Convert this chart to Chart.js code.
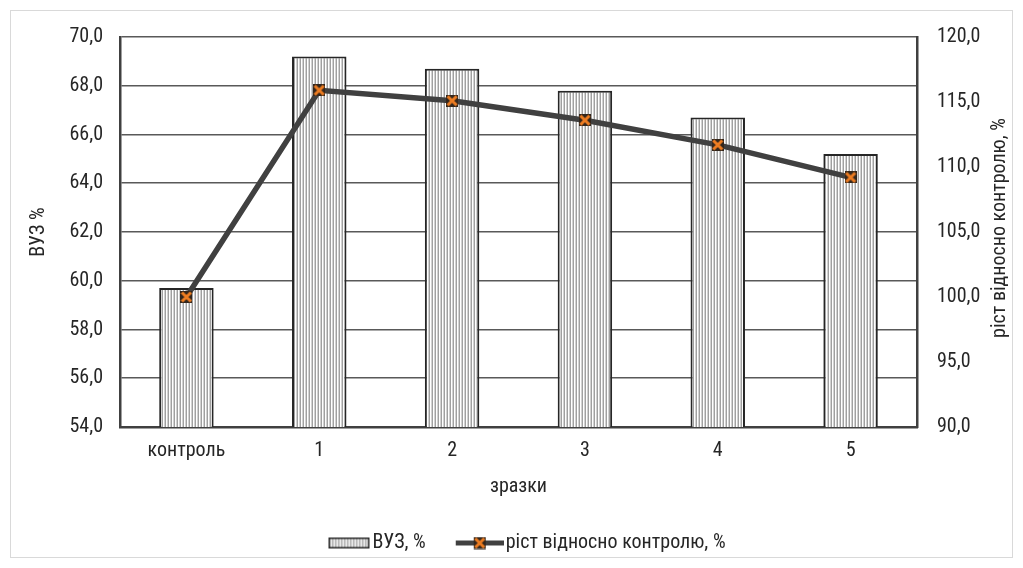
<!DOCTYPE html>
<html>
<head>
<meta charset="utf-8">
<script src="https://cdn.jsdelivr.net/npm/chart.js@4.4.1/dist/chart.umd.min.js"></script>
<style>
  html, body { margin: 0; padding: 0; background: #fff; }
  #wrap { width: 1023px; height: 568px; }
  canvas { display: block; }
</style>
</head>
<body>
<div id="wrap"><canvas id="c"></canvas></div>
<script>
// Categories and series
const categories = ['контроль', '1', '2', '3', '4', '5'];
const vuzValues = [59.7, 69.2, 68.7, 67.8, 66.7, 65.2];          // ВУЗ, %
const growthValues = [100.0, 115.9, 115.1, 113.6, 111.7, 109.2]; // ріст відносно контролю, %

// Axis tick values
const leftTicks = [54, 56, 58, 60, 62, 64, 66, 68, 70];
const rightTicks = [90, 95, 100, 105, 110, 115, 120];

const FONT = "'Roboto Condensed', 'Liberation Sans', Arial, sans-serif";
const TEXT = '#262626';
const FS = 20;

const fmt = v => Number(v).toFixed(1).replace('.', ',');

// Vertical-stripe fill for the bars
function stripePattern() {
  const c = document.createElement('canvas');
  c.width = 3; c.height = 4;
  const g = c.getContext('2d');
  g.fillStyle = '#ffffff'; g.fillRect(0, 0, 3, 4);
  g.fillStyle = '#a0a0a0'; g.fillRect(0, 0, 1, 4);
  g.fillStyle = '#d2d2d2'; g.fillRect(2, 0, 1, 4);
  return g.createPattern(c, 'repeat');
}
const stripes = stripePattern();

// Dark square marker with an orange cross
function drawMarker(g, x, y, size) {
  g.fillStyle = '#33261c';
  g.fillRect(x, y, size, size);
  g.strokeStyle = '#ee7d22';
  g.lineWidth = 3;
  g.lineCap = 'butt';
  g.beginPath();
  g.moveTo(x + 1.5, y + 1.5); g.lineTo(x + size - 1.5, y + size - 1.5);
  g.moveTo(x + size - 1.5, y + 1.5); g.lineTo(x + 1.5, y + size - 1.5);
  g.stroke();
}
function markerCanvas(size) {
  const c = document.createElement('canvas');
  c.width = size; c.height = size;
  drawMarker(c.getContext('2d'), 0, 0, size);
  return c;
}
const marker = markerCanvas(12);

// Legend swatches (56 px wide canvases, content offset so it sits next to the text)
function barSwatch() {
  const c = document.createElement('canvas');
  c.width = 56; c.height = 13;
  const g = c.getContext('2d');
  g.fillStyle = stripes; g.fillRect(14, 1, 41, 11);
  g.strokeStyle = '#262626'; g.lineWidth = 1.5;
  g.strokeRect(14.75, 1.75, 39.5, 9.5);
  return c;
}
function lineSwatch() {
  const c = document.createElement('canvas');
  c.width = 56; c.height = 13;
  const g = c.getContext('2d');
  g.strokeStyle = '#404040'; g.lineWidth = 5;
  g.beginPath(); g.moveTo(8, 6.5); g.lineTo(56, 6.5); g.stroke();
  drawMarker(g, 26, 0.5, 12);
  return c;
}

// Page frame, right axis title and legend placement
const decorations = {
  id: 'decorations',
  beforeDraw(chart) {
    const ctx = chart.ctx;
    ctx.save();
    ctx.fillStyle = '#ffffff';
    ctx.fillRect(0, 0, chart.width, chart.height);
    ctx.strokeStyle = '#d9d9d9';
    ctx.lineWidth = 1;
    ctx.strokeRect(10.5, 10.5, 1002, 547);
    ctx.restore();
  },
  afterLayout(chart) {
    const lg = chart.legend;
    if (!lg) return;
    const pad = lg.options.labels.padding;
    const h = lg.height;
    lg.top = 543 - pad - FS / 2;
    lg.bottom = lg.top + h;
    lg.left = 25; lg.right = 1023;
  },
  afterDraw(chart) {
    const ctx = chart.ctx;
    const area = chart.chartArea;
    ctx.save();
    ctx.fillStyle = TEXT;
    ctx.font = "20px " + FONT;
    ctx.textAlign = 'center';
    ctx.textBaseline = 'middle';
    ctx.translate(1000, (area.top + area.bottom) / 2 - 4);
    ctx.rotate(-Math.PI / 2);
    ctx.fillText('ріст відносно контролю, %', 0, 0);
    ctx.restore();
  }
};

new Chart(document.getElementById('c'), {
  data: {
    labels: categories,
    datasets: [
      {
        type: 'line',
        label: 'ріст відносно контролю, %',
        data: growthValues,
        yAxisID: 'y1',
        borderColor: '#404040',
        borderWidth: 5.5,
        tension: 0,
        pointStyle: marker,
        pointRadius: 6,
        pointHoverRadius: 6,
        order: 0
      },
      {
        type: 'bar',
        label: 'ВУЗ, %',
        data: vuzValues,
        yAxisID: 'y',
        backgroundColor: stripes,
        borderColor: '#262626',
        borderWidth: 2,
        borderSkipped: false,
        categoryPercentage: 1,
        barPercentage: 0.41,
        order: 1
      }
    ]
  },
  options: {
    responsive: true,
    maintainAspectRatio: false,
    animation: false,
    layout: { padding: { top: 37, bottom: 0, left: 0, right: 0 } },
    plugins: {
      tooltip: { enabled: false },
      legend: {
        position: 'bottom',
        align: 'center',
        labels: {
          usePointStyle: true,
          pointStyleWidth: 40,
          padding: 30,
          color: TEXT,
          font: { family: FONT, size: FS },
          generateLabels: () => [
            { text: 'ВУЗ, %', pointStyle: barSwatch(), fillStyle: stripes, strokeStyle: '#262626', lineWidth: 0, fontColor: TEXT, datasetIndex: 1, hidden: false },
            { text: 'ріст відносно контролю, %', pointStyle: lineSwatch(), fillStyle: '#404040', strokeStyle: '#404040', lineWidth: 0, fontColor: TEXT, datasetIndex: 0, hidden: false }
          ]
        }
      }
    },
    scales: {
      x: {
        grid: { display: false, drawTicks: false },
        border: { display: true, color: '#404040', width: 2.5 },
        ticks: { color: TEXT, font: { family: FONT, size: FS }, padding: 12 },
        title: { display: true, text: 'зразки', color: TEXT, font: { family: FONT, size: FS }, padding: { top: 0, bottom: 9 } },
        afterFit(scale) {
          const lh = scale.chart.legend ? scale.chart.legend.height : 60;
          scale.height = 141 - lh;
        }
      },
      y: {
        position: 'left',
        min: 54, max: 70,
        afterBuildTicks(scale) { scale.ticks = leftTicks.map(v => ({ value: v })); },
        grid: { color: '#595959', lineWidth: 1.6, drawTicks: false },
        border: { display: true, color: '#404040', width: 2.5 },
        ticks: { color: TEXT, font: { family: FONT, size: FS }, padding: 17, callback: fmt },
        title: { display: true, text: 'ВУЗ %', color: TEXT, font: { family: FONT, size: FS }, padding: { top: 27, bottom: 0 } },
        afterFit(scale) { scale.width = 120; }
      },
      y1: {
        position: 'right',
        min: 90, max: 120,
        afterBuildTicks(scale) { scale.ticks = rightTicks.map(v => ({ value: v })); },
        grid: { drawOnChartArea: false, drawTicks: false },
        border: { display: true, color: '#404040', width: 2.5 },
        ticks: { color: TEXT, font: { family: FONT, size: FS }, padding: 20, callback: fmt },
        afterFit(scale) { scale.width = 106; }
      }
    }
  },
  plugins: [decorations]
});
</script>
</body>
</html>
